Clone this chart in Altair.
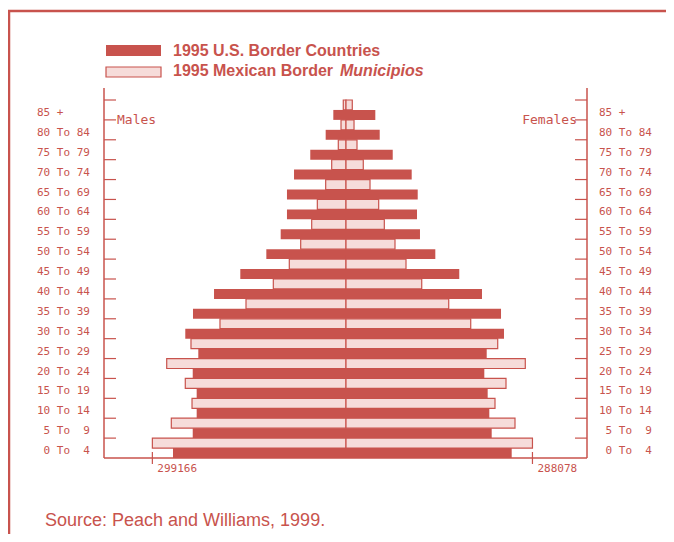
import altair as alt
import pandas as pd

RED = "#c8534d"
PINK = "#f6dcda"

# age groups, bottom to top
age_keys = ["0-4", "5-9", "10-14", "15-19", "20-24", "25-29", "30-34", "35-39",
            "40-44", "45-49", "50-54", "55-59", "60-64", "65-69", "70-74",
            "75-79", "80-84", "85+"]
age_labels = [" 0 To  4", " 5 To  9", "10 To 14", "15 To 19", "20 To 24",
              "25 To 29", "30 To 34", "35 To 39", "40 To 44", "45 To 49",
              "50 To 54", "55 To 59", "60 To 64", "65 To 69", "70 To 74",
              "75 To 79", "80 To 84", "85 +"]

us_male = [267300, 236800, 230700, 230700, 236800, 228200, 248300, 236400,
           203900, 163300, 123100, 100900, 91200, 91200, 80300, 55200, 31400, 19600]
mx_male = [299166, 269900, 237900, 248300, 277000, 239500, 194700, 154500,
           112300, 87600, 70000, 53000, 44300, 31400, 22100, 11900, 7700, 4200]
us_female = [256000, 225100, 221400, 218900, 213700, 217400, 244100, 239500,
             210100, 175000, 138000, 114300, 109700, 110800, 101500, 72200, 52100, 45300]
mx_female = [288078, 261100, 230200, 247200, 277000, 234400, 192700, 158700,
             117000, 92700, 75700, 59200, 50500, 37100, 26700, 17000, 12400, 9700]

axis_marks = [-299166, 288078]
axis_texts = ["299166", "288078"]

legend_us = "1995 U.S. Border Countries"
legend_mx = "1995 Mexican Border "
legend_mx_it = "Municipios"
source_text = "Source: Peach and Williams, 1999."

order_top = list(reversed(age_keys))

rows = []
for i, a in enumerate(age_keys):
    rows.append({"age": a, "series": "us", "value": -us_male[i]})
    rows.append({"age": a, "series": "us", "value": us_female[i]})
    rows.append({"age": a, "series": "mx", "value": -mx_male[i]})
    rows.append({"age": a, "series": "mx", "value": mx_female[i]})
bars_df = pd.DataFrame(rows)

lab_df = pd.DataFrame({
    "age": age_keys,
    "label": [s.strip().replace(" ", "\u00a0") for s in age_labels],
    "lead": [1 if s.startswith(" ") else 0 for s in age_labels],
})
xt_df = pd.DataFrame({"v": axis_marks, "t": axis_texts})
one = pd.DataFrame({"k": [0]})

xscale = alt.Scale(domain=[-373890, 372345], nice=False, zero=False)
yscale = alt.Scale(range=[12, 370], paddingInner=0, paddingOuter=0)
yoff = alt.YOffset("series:N", scale=alt.Scale(domain=["mx", "us"], paddingInner=0, paddingOuter=0))

Y = alt.Y("age:N", sort=order_top, scale=yscale, axis=None)

us_bars = alt.Chart(bars_df).transform_filter(alt.datum.series == "us").mark_bar(
    color=RED, strokeWidth=0).encode(
    x=alt.X("value:Q", scale=xscale, axis=None, stack=None),
    x2=alt.datum(0),
    y=Y,
    yOffset=yoff,
)
mx_bars = alt.Chart(bars_df).transform_filter(alt.datum.series == "mx").mark_bar(
    fill=PINK, stroke=RED, strokeWidth=1.2).encode(
    x=alt.X("value:Q", scale=xscale, axis=None, stack=None),
    x2=alt.datum(0),
    y=Y,
    yOffset=yoff,
)

mono = "DejaVu Sans Mono"
CW = 6.62  # monospace character advance at 11px


def label_layer(x0, lead):
    return alt.Chart(lab_df).transform_filter(alt.datum.lead == lead).mark_text(
        align="left", baseline="middle", font=mono, fontSize=11, color=RED, dy=3).encode(
        y=alt.Y("age:N", sort=order_top, scale=yscale, axis=None),
        x=alt.value(x0 + lead * CW), text="label:N")


left_labels = label_layer(-67, 0)
left_labels2 = label_layer(-67, 1)
right_labels = label_layer(495, 0)
right_labels2 = label_layer(495, 1)

lticks = alt.Chart(lab_df).mark_rule(color=RED, strokeWidth=1.2).encode(
    y=alt.Y("age:N", sort=order_top, scale=yscale, axis=None, bandPosition=0),
    x=alt.value(0), x2=alt.value(12))
rticks = alt.Chart(lab_df).mark_rule(color=RED, strokeWidth=1.2).encode(
    y=alt.Y("age:N", sort=order_top, scale=yscale, axis=None, bandPosition=0),
    x=alt.value(471), x2=alt.value(483))

lines = alt.Chart(one).mark_rule(color=RED, strokeWidth=1.5)
left_axis = lines.encode(x=alt.value(0), y=alt.value(0), y2=alt.value(370))
right_axis = lines.encode(x=alt.value(483), y=alt.value(0), y2=alt.value(370))
bottom_axis = lines.encode(x=alt.value(0), x2=alt.value(483), y=alt.value(370))

frame = alt.Chart(one).mark_rule(color=RED, strokeWidth=2.5)
frame_left = frame.encode(x=alt.value(-95), y=alt.value(-77), y2=alt.value(446))
frame_top = frame.encode(x=alt.value(-96), x2=alt.value(562), y=alt.value(-77))

xticks = alt.Chart(xt_df).mark_rule(color=RED, strokeWidth=1.2).encode(
    x=alt.X("v:Q", scale=xscale, axis=None), y=alt.value(364), y2=alt.value(376))
xlabels = alt.Chart(xt_df).mark_text(
    align="left", baseline="middle", font=mono, fontSize=11, color=RED, dx=5).encode(
    x=alt.X("v:Q", scale=xscale, axis=None), y=alt.value(381), text="t:N")

males = alt.Chart(one).mark_text(align="left", baseline="middle", font=mono,
                                 fontSize=13, color=RED, text="Males").encode(
    x=alt.value(13), y=alt.value(32))
females = alt.Chart(one).mark_text(align="right", baseline="middle", font=mono,
                                   fontSize=13, color=RED, text="Females").encode(
    x=alt.value(473), y=alt.value(32))

sw_us = alt.Chart(one).mark_rect(color=RED).encode(
    x=alt.value(2), x2=alt.value(57), y=alt.value(-43), y2=alt.value(-32))
sw_mx = alt.Chart(one).mark_rect(fill=PINK, stroke=RED, strokeWidth=1.2).encode(
    x=alt.value(2), x2=alt.value(57), y=alt.value(-21), y2=alt.value(-11))

sans = "Liberation Sans"
leg1 = alt.Chart(one).mark_text(align="left", baseline="middle", font=sans, fontSize=16,
                                fontWeight="bold", color=RED, text=legend_us).encode(
    x=alt.value(69), y=alt.value(-37))
leg2 = alt.Chart(one).mark_text(align="left", baseline="middle", font=sans, fontSize=16,
                                fontWeight="bold", color=RED, text=legend_mx).encode(
    x=alt.value(69), y=alt.value(-17))
leg3 = alt.Chart(one).mark_text(align="left", baseline="middle", font=sans, fontSize=16,
                                fontWeight="bold", fontStyle="italic", color=RED,
                                text=legend_mx_it).encode(
    x=alt.value(236), y=alt.value(-17))

source = alt.Chart(one).mark_text(align="left", baseline="middle", font=sans, fontSize=18,
                                  color=RED, text=source_text).encode(
    x=alt.value(-59), y=alt.value(433))

chart = alt.layer(
    frame_left, frame_top,
    mx_bars, us_bars,
    left_axis, right_axis, bottom_axis, lticks, rticks,
    left_labels, left_labels2, right_labels, right_labels2,
    xticks, xlabels, males, females,
    sw_us, sw_mx, leg1, leg2, leg3, source,
).properties(
    width=483, height=370,
    autosize=alt.AutoSizeParams(type="none"),
    padding={"left": 96, "top": 80, "right": 79, "bottom": 76},
).configure_view(stroke=None)

chart.save("out.html", embed_options={"renderer": "svg", "actions": False})
